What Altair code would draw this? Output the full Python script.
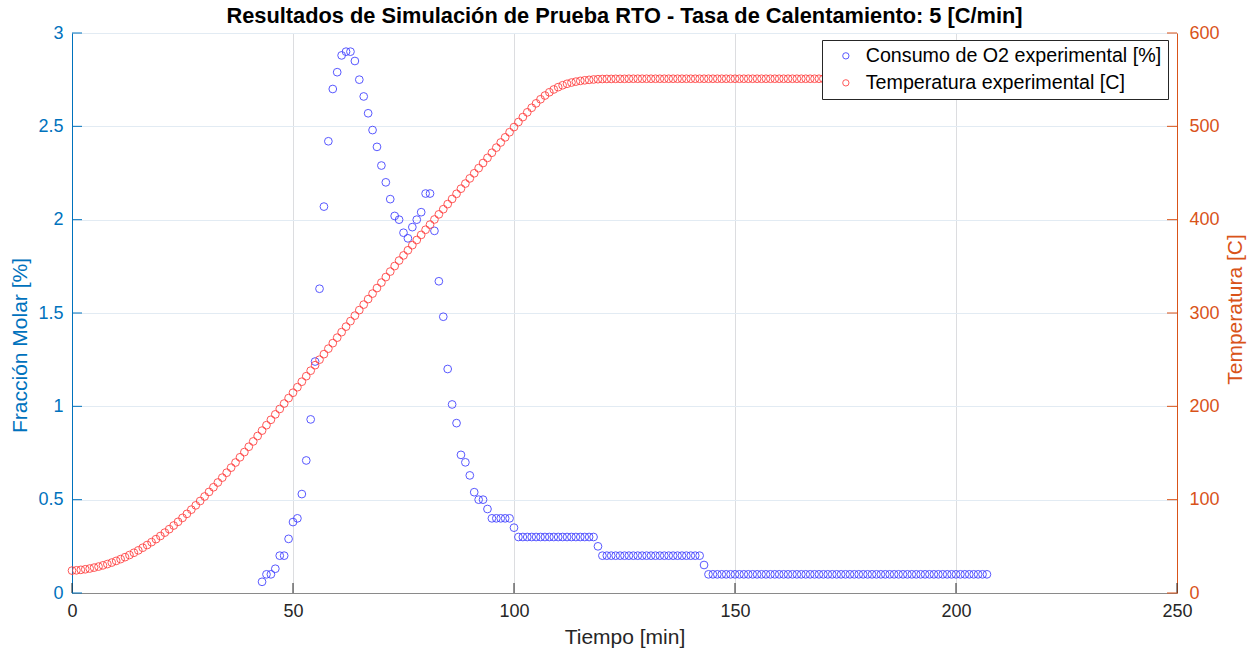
import altair as alt
import pandas as pd

# ---------------- data ----------------
serie_labels = ["Consumo de O2 experimental [%]", "Temperatura experimental [C]"]

t_o2 = list(range(43, 208))
o2 = [
    0.06, 0.10, 0.10, 0.13, 0.20, 0.20, 0.29, 0.38, 0.40, 0.53, 0.71, 0.93, 1.24, 1.63, 2.07,
    2.42, 2.70, 2.79, 2.88, 2.90, 2.90, 2.85, 2.75, 2.66, 2.57, 2.48, 2.39, 2.29, 2.20, 2.11,
    2.02, 2.00, 1.93, 1.90, 1.96, 2.00, 2.04, 2.14, 2.14, 1.94, 1.67, 1.48, 1.20, 1.01, 0.91,
    0.74, 0.70, 0.63, 0.54, 0.50, 0.50, 0.45, 0.40, 0.40, 0.40, 0.40, 0.40, 0.35,
    0.30, 0.30, 0.30, 0.30, 0.30, 0.30, 0.30, 0.30, 0.30, 0.30, 0.30, 0.30, 0.30, 0.30, 0.30, 0.30, 0.30, 0.30,
    0.25,
    0.20, 0.20, 0.20, 0.20, 0.20, 0.20, 0.20, 0.20, 0.20, 0.20, 0.20, 0.20, 0.20, 0.20, 0.20, 0.20, 0.20, 0.20,
    0.20, 0.20, 0.20, 0.20, 0.20,
    0.15,
    0.10, 0.10, 0.10, 0.10, 0.10, 0.10, 0.10, 0.10, 0.10, 0.10, 0.10, 0.10, 0.10, 0.10, 0.10, 0.10,
    0.10, 0.10, 0.10, 0.10, 0.10, 0.10, 0.10, 0.10, 0.10, 0.10, 0.10, 0.10, 0.10, 0.10, 0.10, 0.10,
    0.10, 0.10, 0.10, 0.10, 0.10, 0.10, 0.10, 0.10, 0.10, 0.10, 0.10, 0.10, 0.10, 0.10, 0.10, 0.10,
    0.10, 0.10, 0.10, 0.10, 0.10, 0.10, 0.10, 0.10, 0.10, 0.10, 0.10, 0.10, 0.10, 0.10, 0.10, 0.10,
]

t_temp = list(range(0, 208))
temp = [
    24.0, 24.3, 24.8, 25.4, 26.2, 27.2, 28.3, 29.6, 31.0, 32.6, 34.4,
    36.3, 38.4, 40.7, 43.1, 45.7, 48.5, 51.4, 54.5, 57.7, 61.1,
    64.7, 68.4, 72.3, 76.3, 80.5, 84.8, 89.3, 93.9, 98.6,
    103.4, 108.3, 113.3, 118.4, 123.6, 128.9, 134.3,
    139.8, 145.4, 151.0, 156.7, 162.4, 168.2, 174.0,
    179.8, 185.6, 191.4, 197.2, 203.0, 208.8, 214.6,
    220.5, 226.4, 232.3, 238.2, 244.1, 250.0, 255.9, 261.8, 267.7, 273.6, 279.5, 285.4,
    291.3, 297.2, 303.1, 309.0, 314.9, 320.8, 326.7, 332.6, 338.5, 344.4, 350.3, 356.2,
    361.7, 367.2, 372.7, 378.2, 383.7, 389.2, 394.7, 400.2, 405.7, 411.2, 416.7, 422.2, 427.7,
    433.2, 438.7, 444.2, 449.7, 455.2, 460.7, 466.2, 471.7, 477.2, 482.7, 488.2, 493.7, 499.2,
    504.6, 509.9, 515.0, 519.9, 524.6, 529.0, 533.0, 536.5, 539.5, 542.0,
    544.0, 545.6, 546.9, 547.9, 548.7, 549.3, 549.8, 550.2, 550.5, 550.7,
    550.8, 550.8, 550.9, 550.9, 550.9, 551.0, 551.0, 551.0, 551.0, 551.0, 551.0, 551.0,
    551.0, 551.0, 551.0, 551.0, 551.0, 551.0, 551.0, 551.0, 551.0, 551.0, 551.0, 551.0,
    551.0, 551.0, 551.0, 551.0, 551.0, 551.0, 551.0, 551.0, 551.0, 551.0, 551.0, 551.0,
    551.0, 551.0, 551.0, 551.0, 551.0, 551.0, 551.0, 551.0, 551.0, 551.0, 551.0, 551.0,
    551.0, 551.0, 551.0, 551.0, 551.0, 551.0, 551.0, 551.0, 551.0, 551.0, 551.0, 551.0,
    551.0, 551.0, 551.0, 551.0, 551.0, 551.0, 551.0, 551.0, 551.0, 551.0, 551.0, 551.0,
    551.0, 551.0, 551.0, 551.0, 551.0, 551.0, 551.0, 551.0, 551.0, 551.0, 551.0, 551.0,
    551.0, 551.0, 551.0,
]

x_ticks = [0, 50, 100, 150, 200, 250]
left_ticks = [0, 0.5, 1, 1.5, 2, 2.5, 3]
right_ticks = [0, 100, 200, 300, 400, 500, 600]

assert len(t_o2) == len(o2)
assert len(t_temp) == len(temp)

# ---------------- styling ----------------
FONT = "Liberation Sans"
BLUE_AX = "#0072BD"
ORANGE_AX = "#D95319"
DARK = "#262626"
W, H = 1105, 560

df_o2 = pd.DataFrame({"t": t_o2, "v": o2, "serie": serie_labels[0]})
df_temp = pd.DataFrame({"t": t_temp, "v": temp, "serie": serie_labels[1]})

x_scale = alt.Scale(domain=[0, 250], nice=False, zero=False)
x_axis = alt.Axis(
    title="Tiempo [min]", values=x_ticks, grid=True, gridColor="#dcdde0",
    domainColor="#8a8a8a", ticks=False, labelColor=DARK, titleColor=DARK,
    labelFont=FONT, titleFont=FONT, labelFontSize=18, titleFontSize=21,
    titleFontWeight="normal", labelPadding=9, titlePadding=6, labelFlush=False,
)

color = alt.Color(
    "serie:N",
    scale=alt.Scale(domain=serie_labels, range=["#3c3cff", "#ff3c3c"]),
    legend=alt.Legend(
        title=None, orient="none", legendX=750, legendY=7,
        fillColor="white", strokeColor=DARK, padding=6, rowPadding=6,
        labelFont=FONT, labelFontSize=19.7, labelColor="black", labelLimit=500,
        symbolType="circle", symbolSize=40, symbolStrokeWidth=1,
        labelOffset=10, symbolOffset=8,
    ),
)

blue = alt.Chart(df_o2).mark_point(filled=False, size=60, strokeWidth=1, opacity=0.85).encode(
    x=alt.X("t:Q", scale=x_scale, axis=x_axis),
    y=alt.Y("v:Q", scale=alt.Scale(domain=[0, 3], nice=False),
            axis=alt.Axis(title="Fracción Molar [%]", orient="left", values=left_ticks,
                          labelExpr="'' + datum.value", grid=True, gridColor="#e2ebf3",
                          domainColor=BLUE_AX, ticks=False, labelColor=BLUE_AX,
                          titleColor=BLUE_AX, labelFont=FONT, titleFont=FONT,
                          labelFontSize=18, titleFontSize=21, titleFontWeight="normal",
                          labelPadding=9, titlePadding=7, labelFlush=False,
                          titleY=312)),
    color=color,
)

red = alt.Chart(df_temp).mark_point(filled=False, size=60, strokeWidth=1, opacity=0.85).encode(
    x=alt.X("t:Q", scale=x_scale, axis=x_axis),
    y=alt.Y("v:Q", scale=alt.Scale(domain=[0, 600], nice=False),
            axis=alt.Axis(title="Temperatura [C]", orient="right", values=right_ticks,
                          grid=False, domainColor=ORANGE_AX, ticks=False,
                          labelColor=ORANGE_AX, titleColor=ORANGE_AX, labelFont=FONT,
                          titleFont=FONT, labelFontSize=18, titleFontSize=21,
                          titleFontWeight="normal", titleAngle=270,
                          labelPadding=12, titlePadding=26, labelFlush=False,
                          titleY=276)),
    color=color,
)

# inward tick marks (MATLAB style)
xt = alt.Chart(pd.DataFrame({"t": x_ticks})).mark_rule(color=DARK, strokeWidth=1).encode(
    x=alt.X("t:Q", scale=x_scale, axis=x_axis),
    y=alt.value(H), y2=alt.value(H - 10),
)
lt = alt.Chart(pd.DataFrame({"v": left_ticks})).mark_rule(color=BLUE_AX, strokeWidth=1).encode(
    y=alt.Y("v:Q", scale=alt.Scale(domain=[0, 3], nice=False), axis=None),
    x=alt.value(0), x2=alt.value(10),
)
rt = alt.Chart(pd.DataFrame({"v": right_ticks})).mark_rule(color=ORANGE_AX, strokeWidth=1).encode(
    y=alt.Y("v:Q", scale=alt.Scale(domain=[0, 600], nice=False), axis=None),
    x=alt.value(W - 10), x2=alt.value(W),
)

chart = (
    alt.layer(blue, red, xt, lt, rt)
    .resolve_scale(y="independent")
    .properties(
        width=W, height=H,
        title=alt.TitleParams(
            "Resultados de Simulación de Prueba RTO - Tasa de Calentamiento: 5 [C/min]",
            font=FONT, fontSize=21.8, fontWeight="bold", color="black",
            anchor="middle", offset=-4,
        ),
        autosize=alt.AutoSizeParams(type="none"),
        padding={"left": 72, "top": 33, "right": 78, "bottom": 62},
        background="white",
    )
    .configure_view(stroke="#dfe6ee", strokeWidth=1)
)

chart.save("out.html", embed_options={"renderer": "svg", "actions": False})
